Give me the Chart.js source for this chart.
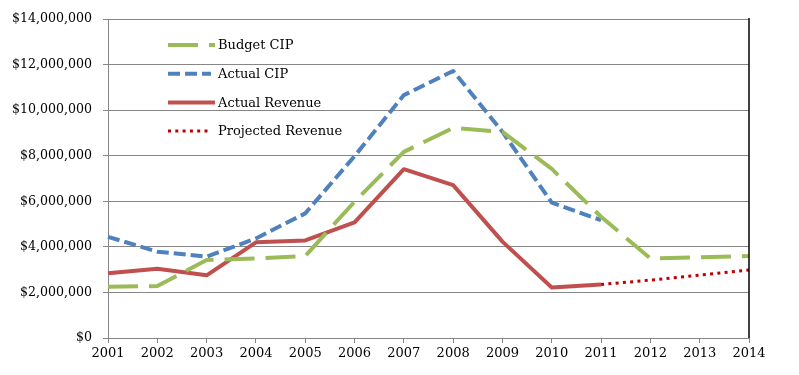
<!DOCTYPE html>
<html>
<head>
<meta charset="utf-8">
<script src="https://cdn.jsdelivr.net/npm/chart.js@4.4.1/dist/chart.umd.min.js"></script>
<style>
  html, body { margin: 0; padding: 0; background: #fff; }
  #wrap { width: 799px; height: 375px; }
</style>
</head>
<body>
<div id="wrap"><canvas id="myChart"></canvas></div>
<script>
// years along the x axis
const years = ['2001', '2002', '2003', '2004', '2005', '2006', '2007', '2008', '2009', '2010', '2011', '2012', '2013', '2014'];

// values (dollars)
const budgetCIP = [2250000, 2280000, 3420000, 3490000, 3600000, 5980000, 8170000, 9220000, 9050000, 7420000, 5320000, 3490000, 3540000, 3600000];
const actualCIP = [4440000, 3790000, 3570000, 4370000, 5470000, 7980000, 10660000, 11720000, 9050000, 5940000, 5170000, null, null, null];
const actualRevenue = [2840000, 3040000, 2750000, 4200000, 4280000, 5070000, 7410000, 6710000, 4230000, 2220000, 2350000, null, null, null];
const projectedRevenue = [null, null, null, null, null, null, null, null, null, null, 2350000, 2540000, 2760000, 2980000];

const yTicks = [0, 2000000, 4000000, 6000000, 8000000, 10000000, 12000000, 14000000];

const FONT = "'DejaVu Serif', serif";

// draws the legend inside the plot, plus the black right border
const legendInPlot = {
    id: 'legendInPlot',
    afterDraw(chart) {
        const ctx = chart.ctx;
        const area = chart.chartArea;

        ctx.save();
        ctx.strokeStyle = '#000';
        ctx.lineWidth = 1.5;
        ctx.beginPath();
        ctx.moveTo(area.right, area.top - 1);
        ctx.lineTo(area.right, area.bottom);
        ctx.stroke();
        ctx.restore();

        const x0 = area.left + 60;
        const y0 = area.top + 26;
        const rowH = 28.7;
        const sampleLen = [47, 43, 47, 43];
        chart.data.datasets.forEach(function(ds, i) {
            const y = y0 + i * rowH;
            ctx.save();
            ctx.strokeStyle = ds.borderColor;
            ctx.lineWidth = ds.borderWidth;
            ctx.setLineDash(ds.borderDash || []);
            ctx.lineCap = 'butt';
            ctx.beginPath();
            ctx.moveTo(x0, y);
            ctx.lineTo(x0 + sampleLen[i], y);
            ctx.stroke();
            ctx.setLineDash([]);
            ctx.fillStyle = '#000';
            ctx.font = '13px ' + FONT;
            ctx.textBaseline = 'middle';
            ctx.fillText(ds.label, x0 + 50, y + 1);
            ctx.restore();
        });
    }
};

const ctx = document.getElementById('myChart').getContext('2d');
const myChart = new Chart(ctx, {
    type: 'line',
    data: {
        labels: years,
        datasets: [{
            label: 'Budget CIP',
            data: budgetCIP,
            borderColor: '#9BBB59',
            borderWidth: 4,
            borderDash: [30, 11]
        }, {
            label: 'Actual CIP',
            data: actualCIP,
            borderColor: '#4F81BD',
            borderWidth: 4,
            borderDash: [12, 5]
        }, {
            label: 'Actual Revenue',
            data: actualRevenue,
            borderColor: '#C0504D',
            borderWidth: 4
        }, {
            label: 'Projected Revenue',
            data: projectedRevenue,
            borderColor: '#C00000',
            borderWidth: 3,
            borderDash: [3, 4.3]
        }]
    },
    options: {
        responsive: true,
        maintainAspectRatio: false,
        animation: false,
        elements: {
            point: { radius: 0, hoverRadius: 0 },
            line: { tension: 0, fill: false, borderCapStyle: 'butt', borderJoinStyle: 'round' }
        },
        layout: {
            padding: { top: 19, right: 50, left: 0, bottom: 0 }
        },
        plugins: {
            legend: { display: false },
            tooltip: { enabled: false }
        },
        scales: {
            x: {
                offset: false,
                grid: {
                    display: true,
                    drawOnChartArea: false,
                    drawTicks: true,
                    tickLength: 5,
                    color: '#868686'
                },
                border: { color: '#868686' },
                ticks: {
                    color: '#000',
                    font: { family: FONT, size: 13 },
                    padding: 3,
                    maxRotation: 0,
                    autoSkip: false
                },
                afterFit: function(scale) { scale.height = 37; }
            },
            y: {
                min: 0,
                max: 14000000,
                afterBuildTicks: function(scale) {
                    scale.ticks = yTicks.map(v => ({ value: v }));
                },
                grid: {
                    color: '#868686',
                    tickLength: 5
                },
                border: { color: '#868686' },
                ticks: {
                    color: '#000',
                    font: { family: FONT, size: 12.6 },
                    padding: 11,
                    callback: function(v) { return '$' + v.toLocaleString('en-US'); }
                },
                afterFit: function(scale) { scale.width = 108; }
            }
        }
    },
    plugins: [legendInPlot]
});
</script>
</body>
</html>
